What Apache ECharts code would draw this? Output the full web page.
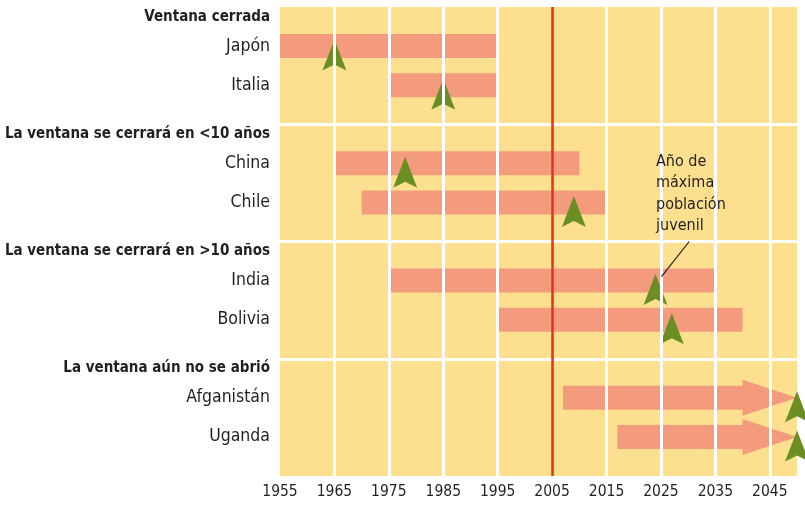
<!DOCTYPE html>
<html><head><meta charset="utf-8">
<script src="https://cdn.jsdelivr.net/npm/echarts@6/dist/echarts.min.js"></script>
<style>html,body{margin:0;padding:0;background:#fff}#c{width:805px;height:506px}</style>
</head><body><div id="c"></div>
<script>
// ---- data ----
const groups = ['Ventana cerrada', 'La ventana se cerrará en <10 años', 'La ventana se cerrará en >10 años', 'La ventana aún no se abrió'];
const countries = ['Japón', 'Italia', 'China', 'Chile', 'India', 'Bolivia', 'Afganistán', 'Uganda'];
const windowStart = [1955, 1975, 1965, 1970, 1975, 1995, 2007, 2017];
const windowEnd = [1995, 1995, 2010, 2015, 2035, 2040, 2050, 2050];
const openEnded = [0, 0, 0, 0, 0, 0, 1, 1];
const peakYear = [1965, 1985, 1978, 2009, 2024, 2027, 2050, 2050];
const xTickLabels = [1955, 1965, 1975, 1985, 1995, 2005, 2015, 2025, 2035, 2045];
const currentYear = 2005;
const annotation = ['Año de', 'máxima', 'población', 'juvenil'];

// ---- layout helpers ----
const FONT = "'DejaVu Sans Condensed','Liberation Sans Narrow',sans-serif";
const rowPos = countries.map((c, i) => Math.floor(i / 2) * 3 + 1 + (i % 2));
const headerPos = groups.map((g, i) => i * 3 + 0.25);
const labelMap = {};
countries.forEach((c, i) => labelMap[rowPos[i].toFixed(2)] = '{c|' + c + '}');
groups.forEach((g, i) => labelMap[headerPos[i].toFixed(2)] = '{h|' + g + '}');

const YELLOW = '#FDE08F', BAR = '#F59B7D', GREEN = '#6B8E23', RED = '#E8321E', TEXT = '#231F20';

const barData = countries.map((c, i) => [windowStart[i], windowEnd[i], rowPos[i], openEnded[i]]);
const peakData = countries.map((c, i) => [peakYear[i], rowPos[i]]);

const chart = echarts.init(document.getElementById('c'), null, {renderer: 'canvas'});
chart.setOption({
  animation: false,
  backgroundColor: '#ffffff',
  grid: {left: 280, right: 8, top: 7, bottom: 30, show: true, backgroundColor: YELLOW, borderWidth: 0,
         containLabel: false, outerBoundsMode: 'none'},
  xAxis: {
    type: 'value', min: 1955, max: 2050, interval: 5,
    axisLine: {show: false}, axisTick: {show: false}, splitLine: {show: false},
    axisLabel: {
      margin: 8, color: TEXT, fontFamily: FONT, fontSize: 15.5,
      formatter: v => xTickLabels.indexOf(v) >= 0 ? String(v) : ''
    }
  },
  yAxis: {
    type: 'value', min: 0, max: 12, interval: 0.25, inverse: true,
    axisLine: {show: false}, axisTick: {show: false}, splitLine: {show: false},
    axisLabel: {
      margin: 10, align: 'right',
      formatter: v => labelMap[v.toFixed(2)] || '',
      rich: {
        c: {fontFamily: FONT, fontSize: 17.5, color: TEXT},
        h: {fontFamily: FONT, fontSize: 15, fontWeight: 'bold', color: TEXT}
      }
    }
  },
  graphic: [{
    type: 'text', left: 656, top: 151, z: 100,
    style: {text: annotation.join('\n'), font: '16px ' + FONT, fill: TEXT, lineHeight: 21.5}
  }],
  series: [
    {
      type: 'line', data: [], z: 1, silent: true,
      markLine: {
        silent: true, symbol: ['none', 'none'], label: {show: false}, animation: false,
        lineStyle: {color: '#ffffff', width: 3, type: 'solid'},
        data: xTickLabels.filter(v => v !== 1955 && v !== currentYear).map(v => ({xAxis: v}))
          .concat([3, 6, 9].map(v => ({yAxis: v})))
      }
    },
    {
      type: 'custom', z: 2, silent: true,
      renderItem: function (params, api) {
        const s = api.value(0), e = api.value(1), y = api.value(2), open = api.value(3);
        const p0 = api.coord([s, y]), p1 = api.coord([e, y]);
        const h = 24;
        if (!open) {
          return {type: 'rect', shape: {x: p0[0], y: p0[1] - h / 2, width: p1[0] - p0[0], height: h}, style: {fill: BAR}};
        }
        const pHead = api.coord([e - 10, y]);
        const hh = 18;
        return {
          type: 'polygon',
          shape: {points: [
            [p0[0], p0[1] - h / 2], [pHead[0], p0[1] - h / 2], [pHead[0], p0[1] - hh],
            [p1[0], p1[1]], [pHead[0], p0[1] + hh], [pHead[0], p0[1] + h / 2], [p0[0], p0[1] + h / 2]
          ]},
          style: {fill: BAR}
        };
      },
      encode: {x: [0, 1], y: 2},
      data: barData
    },
    {
      type: 'line', data: [], z: 3, silent: true,
      markLine: {
        silent: true, symbol: ['none', 'none'], label: {show: false}, animation: false,
        data: [
          {xAxis: currentYear, lineStyle: {color: RED, width: 2.5, type: 'solid'}},
          [{coord: [2030.2, 6.0], lineStyle: {color: TEXT, width: 1.2, type: 'solid'}}, {coord: [2025.1, 6.9]}]
        ]
      }
    },
    {
      type: 'scatter', z: 4, silent: true, clip: false,
      symbol: 'path://M12,0L24,31L12,25L0,31Z',
      symbolSize: [24, 31], symbolOffset: [0, 9], symbolKeepAspect: false,
      itemStyle: {color: GREEN, opacity: 1},
      data: peakData
    }
  ]
});
</script></body></html>
